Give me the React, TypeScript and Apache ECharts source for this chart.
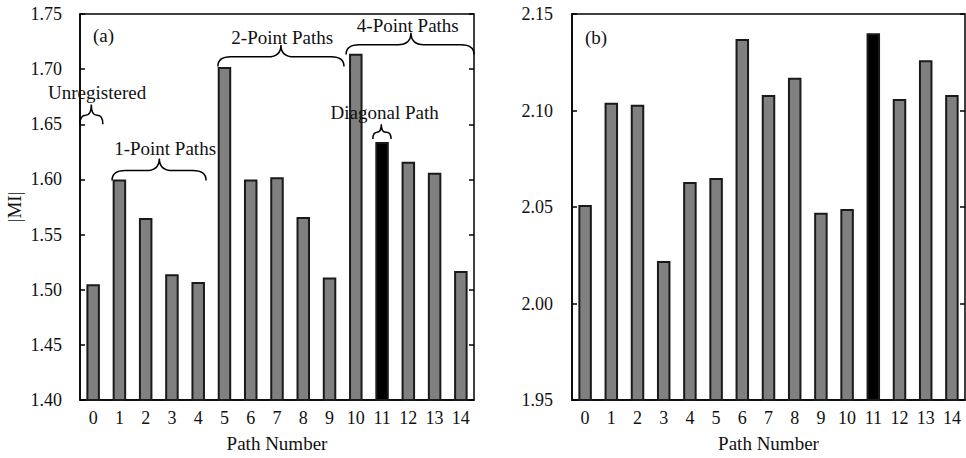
import React, { useEffect, useRef } from "react";
import * as echarts from "echarts";

const categories = ["0","1","2","3","4","5","6","7","8","9","10","11","12","13","14"];
const valuesA = [1.505, 1.600, 1.565, 1.514, 1.507, 1.702, 1.600, 1.602, 1.566, 1.511, 1.714, 1.634, 1.616, 1.606, 1.517];
const valuesB = [2.051, 2.104, 2.103, 2.022, 2.063, 2.065, 2.137, 2.108, 2.117, 2.047, 2.049, 2.140, 2.106, 2.126, 2.108];
const highlightIndex = 11;

// braces: [x1, x2, cusp x, y of ends, y of cusp, text x, text y] in data units
const braceLabels = ["Unregistered", "1-Point Paths", "2-Point Paths", "4-Point Paths", "Diagonal Path"];
const braceRows = [
  [-0.5, 0.37, -0.07, 1.650, 1.668, 0.15, 1.679],
  [0.72, 4.30, 2.52, 1.599, 1.619, 2.74, 1.628],
  [4.75, 9.55, 7.15, 1.7025, 1.722, 7.20, 1.729],
  [9.63, 14.5, 12.10, 1.7133, 1.733, 11.98, 1.740],
  [10.65, 11.34, 10.97, 1.6367, 1.650, 11.10, 1.6606],
];

const FONT = "'Liberation Serif', 'Times New Roman', serif";
const INK = "#111";

function fmt(v: number) {
  return v.toFixed(2);
}

function barData(vals: number[]) {
  return vals.map((v, i) =>
    i === highlightIndex ? { value: v, itemStyle: { color: "#000" } } : v
  );
}

export default function App() {
  const ref = useRef<HTMLDivElement>(null);
  useEffect(() => {
    if (!ref.current) return;
    const chart = echarts.init(ref.current, undefined, { renderer: "svg" });
    const yLeft = (gi: number, min: number, max: number, margin: number, name: string) => ({
      type: "value",
      gridIndex: gi,
      position: "left",
      min,
      max,
      interval: 0.05,
      name,
      nameLocation: "middle",
      nameGap: 56,
      nameTextStyle: { fontFamily: FONT, fontSize: 19, color: INK },
      axisLine: { show: true, onZero: false, lineStyle: { color: "#000", width: 1.5 } },
      axisTick: { show: true, inside: true, length: 5, lineStyle: { color: "#000", width: 1.5 } },
      axisLabel: { formatter: fmt, fontFamily: FONT, fontSize: 18, color: INK, margin },
      splitLine: { show: false },
    });
    const yRight = (gi: number, min: number, max: number) => ({
      type: "value",
      gridIndex: gi,
      position: "right",
      min,
      max,
      interval: 0.05,
      axisLine: { show: false, onZero: false },
      axisTick: { show: true, inside: true, length: 5, lineStyle: { color: "#000", width: 1.5 } },
      axisLabel: { show: false },
      splitLine: { show: false },
    });
    const xCat = (gi: number) => ({
      type: "category",
      gridIndex: gi,
      data: categories,
      boundaryGap: true,
      name: "Path Number",
      nameLocation: "middle",
      nameGap: 34,
      nameTextStyle: { fontFamily: FONT, fontSize: 19, color: INK },
      axisLine: { show: true, onZero: false, lineStyle: { color: "#000", width: 1.5 } },
      axisTick: { show: false },
      axisLabel: { interval: 0, fontFamily: FONT, fontSize: 18, color: INK, margin: 9 },
      splitLine: { show: false },
    });
    const barStyle = { color: "#808080", borderColor: "#1a1a1a", borderWidth: 2 };

    chart.setOption({
      animation: false,
      grid: [
        { left: 80, top: 14, width: 394, height: 389, show: true, borderColor: "#000", borderWidth: 1.5, backgroundColor: "transparent" },
        { left: 572, top: 14, width: 393, height: 389, show: true, borderColor: "#000", borderWidth: 1.5, backgroundColor: "transparent" },
      ],
      xAxis: [
        xCat(0),
        xCat(1),
        { type: "value", gridIndex: 0, min: -0.5, max: 14.5, show: false, axisLine: { onZero: false } },
      ],
      yAxis: [
        yLeft(0, 1.4, 1.75, 18, "|MI|"),
        yLeft(1, 1.95, 2.15, 19, ""),
        yRight(0, 1.4, 1.75),
        yRight(1, 1.95, 2.15),
      ],
      series: [
        {
          type: "bar",
          xAxisIndex: 0,
          yAxisIndex: 0,
          data: barData(valuesA),
          barWidth: 13.5,
          itemStyle: barStyle,
        },
        {
          type: "bar",
          xAxisIndex: 1,
          yAxisIndex: 1,
          data: barData(valuesB),
          barWidth: 13.5,
          itemStyle: barStyle,
        },
        {
          type: "custom",
          xAxisIndex: 2,
          yAxisIndex: 0,
          clip: false,
          z: 5,
          data: braceRows,
          encode: { x: [0, 1, 2, 5], y: [3, 4, 6] },
          renderItem: (params: any, api: any) => {
            const x1 = api.value(0), x2 = api.value(1), xc = api.value(2);
            const yE = api.value(3), yC = api.value(4), tx = api.value(5), ty = api.value(6);
            const p1 = api.coord([x1, yE]);
            const p2 = api.coord([x2, yE]);
            const pc = api.coord([xc, yC]);
            const pt = api.coord([tx, ty]);
            const yb = p1[1];
            const yt = pc[1];
            const h = yb - yt;
            const ym = yt + h * 0.55;
            const r = Math.min(h * 0.6, (p2[0] - p1[0]) / 4);
            const a = p1[0], b = p2[0], c = pc[0];
            const d =
              `M${a},${yb} Q${a},${ym} ${a + r},${ym} L${c - r},${ym} Q${c},${ym} ${c},${yt} ` +
              `Q${c},${ym} ${c + r},${ym} L${b - r},${ym} Q${b},${ym} ${b},${yb}`;
            return {
              type: "group",
              children: [
                {
                  type: "path",
                  shape: { pathData: d },
                  style: { stroke: "#000", fill: "none", lineWidth: 1.5 },
                },
                {
                  type: "text",
                  x: pt[0],
                  y: pt[1],
                  style: {
                    text: braceLabels[params.dataIndex],
                    fontFamily: FONT,
                    fontSize: 19,
                    fill: INK,
                    align: "center",
                    verticalAlign: "middle",
                  },
                },
              ],
            };
          },
        },
      ],
      graphic: [
        { type: "text", x: 93, y: 35, style: { text: "(a)", fontFamily: FONT, fontSize: 19, fill: INK, verticalAlign: "middle" } },
        { type: "text", x: 585, y: 37, style: { text: "(b)", fontFamily: FONT, fontSize: 19, fill: INK, verticalAlign: "middle" } },
      ],
    });
    return () => chart.dispose();
  }, []);
  return (
    <div
      ref={ref}
      style={{ position: "fixed", left: 0, top: 0, width: 966, height: 458, background: "#fff" }}
    />
  );
}
